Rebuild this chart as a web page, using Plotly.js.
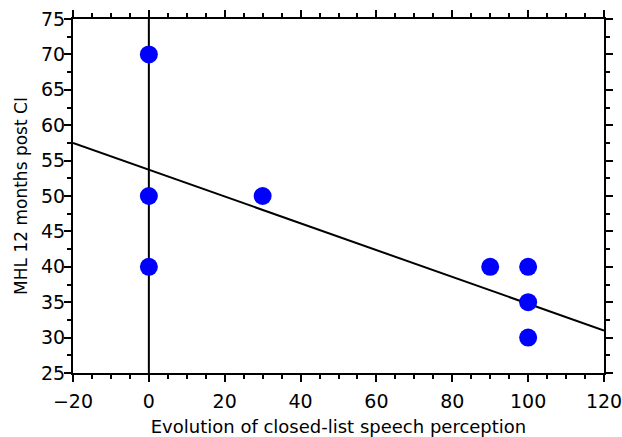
<!DOCTYPE html>
<html>
<head>
<meta charset="utf-8">
<script src="https://cdn.plot.ly/plotly-3.0.1.min.js"></script>
<style>html,body{margin:0;padding:0;background:#fff;}#chart{width:622px;height:437px;}</style>
</head>
<body>
<div id="chart"></div>
<script>
// Data
var evolution = [0, 0, 0, 30, 90, 100, 100, 100];
var mhl = [70, 50, 40, 50, 40, 40, 35, 30];
var fitX = [-20, 120];
var fitY = [57.5, 31.0];
var zeroX = [0, 0];
var zeroY = [25, 75];
var xTitle = "Evolution of closed-list speech perception";
var yTitle = "MHL 12 months post CI";

var traces = [
  {x: zeroX, y: zeroY, mode: 'lines', line: {color: '#000', width: 2}, hoverinfo: 'skip'},
  {x: fitX, y: fitY, mode: 'lines', line: {color: '#000', width: 2}, hoverinfo: 'skip'},
  {x: evolution, y: mhl, mode: 'markers', marker: {color: '#0000FF', size: 18}}
];

var fontFam = 'DejaVu Sans, Arial, sans-serif';
var layout = {
  width: 622, height: 437,
  margin: {l: 73, r: 18, t: 19, b: 64},
  showlegend: false,
  paper_bgcolor: '#fff', plot_bgcolor: '#fff',
  font: {family: fontFam, color: '#000', size: 18},
  xaxis: {
    range: [-20, 120], tickmode: 'linear', tick0: -20, dtick: 20,
    showgrid: false, zeroline: false, showline: true, linecolor: '#000', linewidth: 2,
    mirror: 'ticks', ticks: 'outside', ticklen: 7, tickwidth: 2, tickcolor: '#000',
    minor: {dtick: 5, ticks: 'outside', ticklen: 4, tickwidth: 2, tickcolor: '#000', showgrid: false},
    tickfont: {size: 19, family: fontFam},
    ticklabelstandoff: 3,
    ticklabeloverflow: 'allow',
    title: {text: xTitle, font: {size: 18, family: fontFam}, standoff: 12}
  },
  yaxis: {
    range: [25, 75], tickmode: 'linear', tick0: 25, dtick: 5,
    showgrid: false, zeroline: false, showline: true, linecolor: '#000', linewidth: 2,
    mirror: 'ticks', ticks: 'outside', ticklen: 7, tickwidth: 2, tickcolor: '#000',
    minor: {dtick: 2.5, ticks: 'outside', ticklen: 4, tickwidth: 2, tickcolor: '#000', showgrid: false},
    tickfont: {size: 19, family: fontFam},
    ticklabelstandoff: -5,
    ticklabeloverflow: 'allow',
    title: {text: yTitle, font: {size: 17, family: fontFam}, standoff: 9}
  }
};

Plotly.newPlot('chart', traces, layout, {displayModeBar: false, staticPlot: true});
</script>
</body>
</html>
